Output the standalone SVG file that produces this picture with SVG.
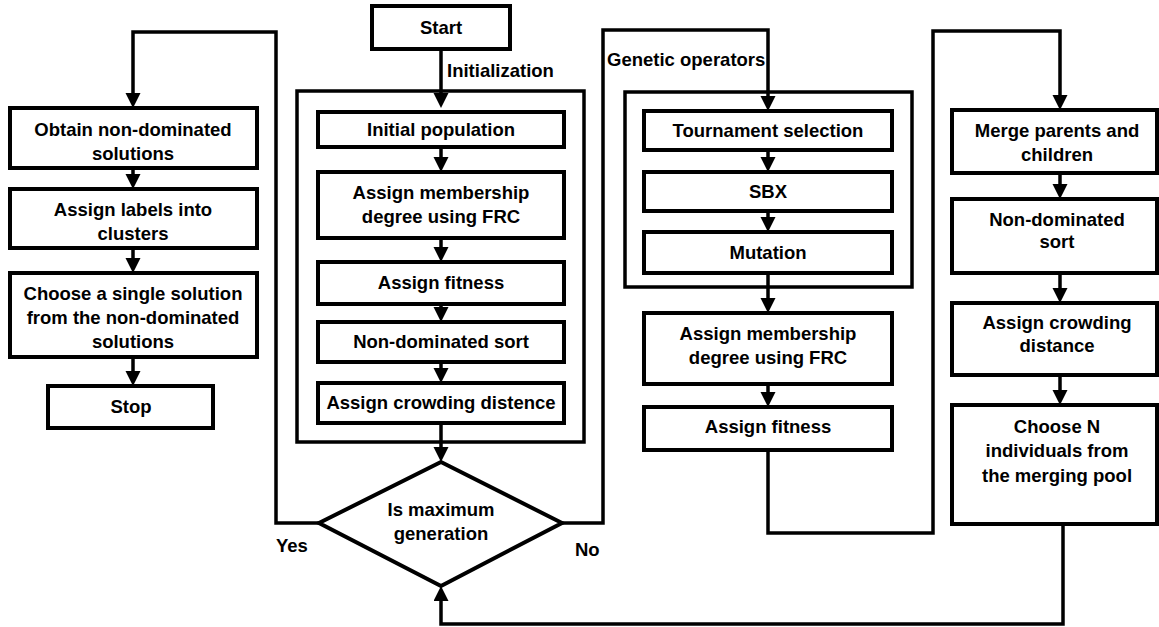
<svg xmlns="http://www.w3.org/2000/svg" width="1159" height="627" viewBox="0 0 1159 627">
  <style>
    .box { fill: #fff; stroke: #000; stroke-width: 4; }
    .group { fill: none; stroke: #000; stroke-width: 3.5; }
    .wire { fill: none; stroke: #000; stroke-width: 3.5; marker-end: url(#arrow); }
    .plain { fill: none; stroke: #000; stroke-width: 3.5; }
    text { font-family: "Liberation Sans", Arial, sans-serif; font-weight: bold; font-size: 18.5px; fill: #000; }
    .c { text-anchor: middle; }
  </style>
  <defs>
    <marker id="arrow" markerUnits="userSpaceOnUse" markerWidth="16" markerHeight="16" refX="7" refY="7.5" orient="auto">
      <path d="M0,0 L15,7.5 L0,15 Z" fill="#000"/>
    </marker>
  </defs>

  <!-- group frames -->
  <rect id="init-frame" class="group" x="297" y="91" width="287" height="351"/>
  <rect id="ga-frame" class="group" x="625" y="92" width="287" height="195"/>

  <!-- connectors -->
  <g id="connectors">
    <path class="wire" d="M441,49 V100"/>
    <path class="wire" d="M441,147 V164"/>
    <path class="wire" d="M441,238 V254"/>
    <path class="wire" d="M441,304 V314"/>
    <path class="wire" d="M441,362 V375"/>
    <path class="wire" d="M441,423 V454"/>
    <path class="wire" d="M319,523 H276 V32 H133 V100"/>
    <path class="wire" d="M133,168 V181"/>
    <path class="wire" d="M133,248 V265"/>
    <path class="wire" d="M133,357 V378"/>
    <path class="wire" d="M562,523 H603 V30 H768 V103"/>
    <path class="wire" d="M768,150 V164"/>
    <path class="wire" d="M768,211 V224"/>
    <path class="wire" d="M768,273 V305"/>
    <path class="wire" d="M768,384 V399"/>
    <path class="wire" d="M768,450 V533 H933 V31 H1060 V102"/>
    <path class="wire" d="M1060,173 V191"/>
    <path class="wire" d="M1060,273 V295"/>
    <path class="wire" d="M1060,375 V397"/>
    <path class="wire" d="M1063,524 V624 H441 V594"/>
  </g>

  <!-- connector labels -->
  <text x="447" y="77">Initialization</text>
  <text x="607" y="66">Genetic operators</text>
  <text x="276" y="552">Yes</text>
  <text x="575" y="556">No</text>

  <!-- left column -->
  <g id="obtain">
    <rect class="box" x="10" y="108" width="247" height="60"/>
    <text class="c" x="133" y="136">Obtain non-dominated</text>
    <text class="c" x="133" y="160">solutions</text>
  </g>
  <g id="labels">
    <rect class="box" x="10" y="189" width="247" height="59"/>
    <text class="c" x="133" y="216">Assign labels into</text>
    <text class="c" x="133" y="240">clusters</text>
  </g>
  <g id="choose-single">
    <rect class="box" x="10" y="273" width="247" height="84"/>
    <text class="c" x="133" y="300">Choose a single solution</text>
    <text class="c" x="133" y="324">from the non-dominated</text>
    <text class="c" x="133" y="348">solutions</text>
  </g>
  <g id="stop">
    <rect class="box" x="48" y="386" width="165" height="42"/>
    <text class="c" x="131" y="413">Stop</text>
  </g>

  <!-- initialization column -->
  <g id="start">
    <rect class="box" x="372" y="6" width="138" height="43"/>
    <text class="c" x="441" y="34">Start</text>
  </g>
  <g id="init-pop">
    <rect class="box" x="318" y="112" width="246" height="35"/>
    <text class="c" x="441" y="136">Initial population</text>
  </g>
  <g id="init-membership">
    <rect class="box" x="318" y="172" width="246" height="66"/>
    <text class="c" x="441" y="199">Assign membership</text>
    <text class="c" x="441" y="223">degree using FRC</text>
  </g>
  <g id="init-fitness">
    <rect class="box" x="318" y="262" width="246" height="42"/>
    <text class="c" x="441" y="289">Assign fitness</text>
  </g>
  <g id="init-sort">
    <rect class="box" x="318" y="322" width="246" height="40"/>
    <text class="c" x="441" y="348">Non-dominated sort</text>
  </g>
  <g id="init-crowding">
    <rect class="box" x="318" y="383" width="246" height="40"/>
    <text class="c" x="441" y="409">Assign crowding distence</text>
  </g>
  <g id="decision">
    <polygon class="box" points="441,462 562,523 441,586 319,523"/>
    <text class="c" x="441" y="516">Is maximum</text>
    <text class="c" x="441" y="540">generation</text>
  </g>

  <!-- genetic operators column -->
  <g id="tournament">
    <rect class="box" x="644" y="111" width="248" height="39"/>
    <text class="c" x="768" y="137">Tournament selection</text>
  </g>
  <g id="sbx">
    <rect class="box" x="644" y="172" width="248" height="39"/>
    <text class="c" x="768" y="198">SBX</text>
  </g>
  <g id="mutation">
    <rect class="box" x="644" y="232" width="248" height="41"/>
    <text class="c" x="768" y="259">Mutation</text>
  </g>
  <g id="ga-membership">
    <rect class="box" x="644" y="313" width="248" height="71"/>
    <text class="c" x="768" y="340">Assign membership</text>
    <text class="c" x="768" y="364">degree using FRC</text>
  </g>
  <g id="ga-fitness">
    <rect class="box" x="644" y="407" width="248" height="43"/>
    <text class="c" x="768" y="433">Assign fitness</text>
  </g>

  <!-- survivor selection column -->
  <g id="merge">
    <rect class="box" x="952" y="110" width="205" height="63"/>
    <text class="c" x="1057" y="137">Merge parents and</text>
    <text class="c" x="1057" y="161">children</text>
  </g>
  <g id="sort">
    <rect class="box" x="952" y="199" width="205" height="74"/>
    <text class="c" x="1057" y="226">Non-dominated</text>
    <text class="c" x="1057" y="248">sort</text>
  </g>
  <g id="crowding">
    <rect class="box" x="952" y="303" width="205" height="72"/>
    <text class="c" x="1057" y="329">Assign crowding</text>
    <text class="c" x="1057" y="352">distance</text>
  </g>
  <g id="choose-n">
    <rect class="box" x="952" y="405" width="205" height="119"/>
    <text class="c" x="1057" y="433">Choose N</text>
    <text class="c" x="1057" y="457">individuals from</text>
    <text class="c" x="1057" y="482">the merging pool</text>
  </g>
</svg>
